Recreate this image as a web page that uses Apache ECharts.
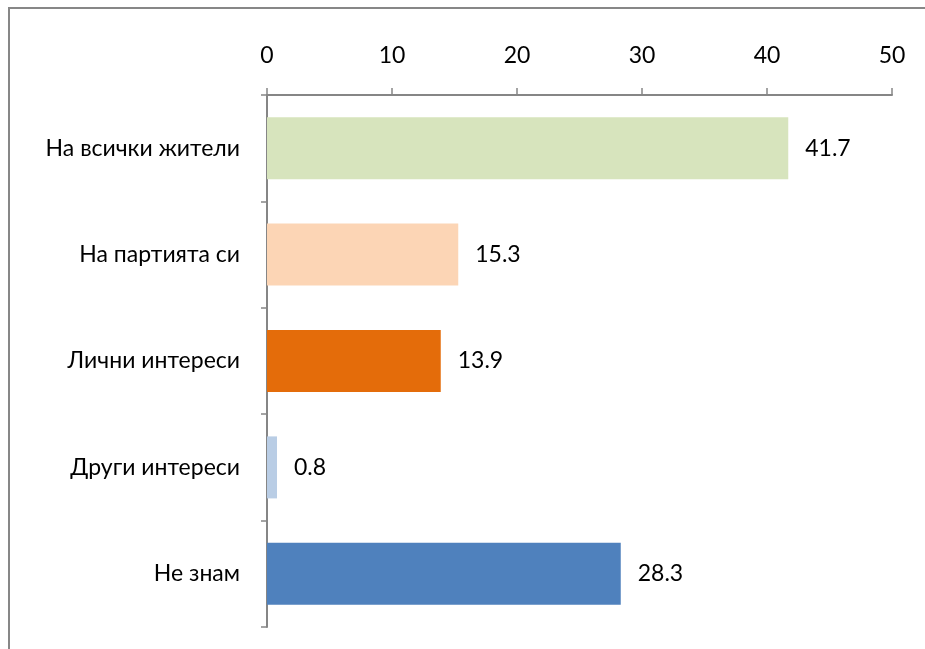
<!DOCTYPE html>
<html><head><meta charset="utf-8">
<script src="https://cdn.jsdelivr.net/npm/echarts@6/dist/echarts.min.js"></script>
<style>html,body{margin:0;padding:0;background:#fff}#c{width:925px;height:649px}</style>
</head><body><div id="c"></div>
<script>
const categories = ['На всички жители','На партията си','Лични интереси','Други интереси','Не знам'];
const values = [41.7, 15.3, 13.9, 0.8, 28.3];
const barColors = ['#D7E4BD','#FCD5B5','#E46C0A','#B9CDE5','#4F81BD'];
const xTicks = [0, 10, 20, 30, 40, 50];

const chart = echarts.init(document.getElementById('c'));
const font = 'Lato, "Open Sans", sans-serif';
chart.setOption({
  animation: false,
  graphic: [{type:'rect', shape:{x:9, y:8, width:940, height:660}, style:{fill:'none', stroke:'#878787', lineWidth:2}, silent:true}],
  grid: {left: 267, right: 33, top: 95, bottom: 22, containLabel: false},
  xAxis: {
    type: 'value', position: 'top', min: xTicks[0], max: xTicks[xTicks.length-1], interval: 10,
    axisLine: {show: true, lineStyle: {color: '#868686', width: 2}},
    axisTick: {show: true, inside: false, length: 7, lineStyle: {color: '#868686', width: 1.5}},
    splitLine: {show: false},
    axisLabel: {color: '#000', fontSize: 23, fontFamily: font, margin: 28}
  },
  yAxis: {
    type: 'category', inverse: true, data: categories,
    axisLine: {show: true, lineStyle: {color: '#868686', width: 2}},
    axisTick: {show: true, length: 6, lineStyle: {color: '#868686', width: 1.5}},
    axisLabel: {color: '#000', fontSize: 23, fontFamily: font, margin: 27}
  },
  series: [{
    type: 'bar', barWidth: 62,
    data: values.map((v,i)=>({value:v, itemStyle:{color:barColors[i]}})),
    label: {show: true, position: 'right', distance: 17, color: '#000', fontSize: 23, fontFamily: font}
  }]
});
</script></body></html>
